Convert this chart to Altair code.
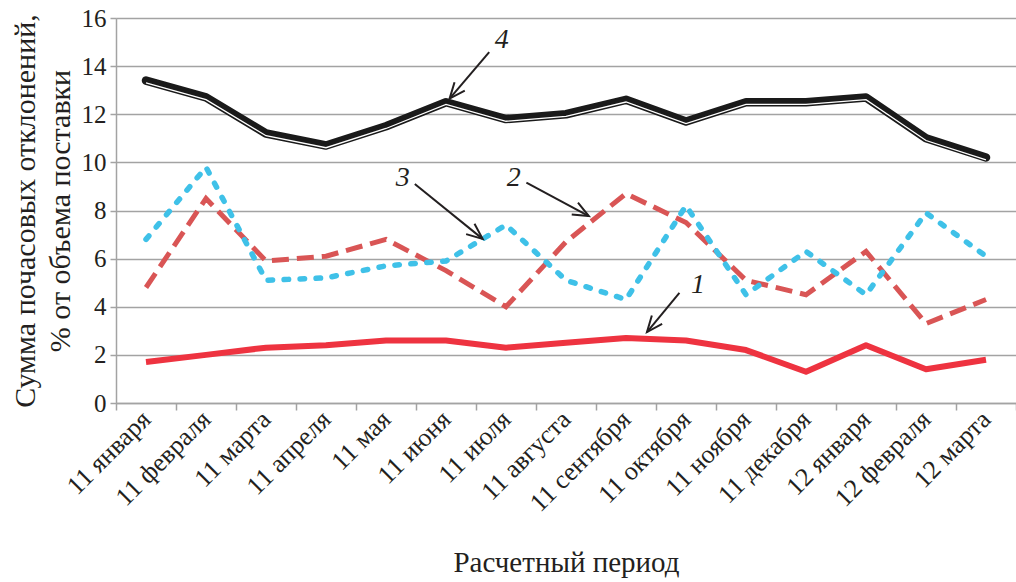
import altair as alt
import pandas as pd

months = ["11 января", "11 февраля", "11 марта", "11 апреля", "11 мая", "11 июня",
          "11 июля", "11 августа", "11 сентября", "11 октября", "11 ноября",
          "11 декабря", "12 января", "12 февраля", "12 марта"]
s1 = [1.7, 2.0, 2.3, 2.4, 2.6, 2.6, 2.3, 2.5, 2.7, 2.6, 2.2, 1.3, 2.4, 1.4, 1.8]
s2 = [4.8, 8.5, 5.9, 6.1, 6.8, 5.5, 4.0, 6.7, 8.7, 7.5, 5.1, 4.5, 6.3, 3.3, 4.3]
s3 = [6.8, 9.8, 5.1, 5.2, 5.7, 5.9, 7.4, 5.1, 4.3, 8.2, 4.5, 6.3, 4.5, 7.9, 6.1]
s4 = [13.4, 12.7, 11.2, 10.7, 11.5, 12.5, 11.8, 12.0, 12.6, 11.7, 12.5, 12.5, 12.7, 11.0, 10.2]

# annotation labels and arrows (in data units: month index, value)
ann_labels = ["1", "2", "3", "4"]
ann_label_x = [9.20, 6.13, 4.28, 5.93]
ann_label_y = [4.90, 9.35, 9.35, 15.09]
ann_tail_x = [8.89, 6.34, 4.48, 5.72]
ann_tail_y = [4.58, 9.16, 9.10, 14.58]
ann_tip_x = [8.35, 7.38, 5.61, 5.06]
ann_tip_y = [2.95, 7.77, 6.82, 12.65]
ann_angle = [219.2, 118.1, 129.0, 219.5]

FONT = "Liberation Serif"
TXT = "#231f20"
GRID = "#a3a3a3"

df = pd.DataFrame({
    "month": months * 4,
    "series": ["1"] * 15 + ["2"] * 15 + ["3"] * 15 + ["4"] * 15,
    "value": s1 + s2 + s3 + s4,
})

xenc = alt.X(
    "month:N", sort=months, bandPosition=0.5,
    scale=alt.Scale(type="band", paddingInner=0, paddingOuter=0),
    axis=alt.Axis(
        title="Расчетный период", tickBand="extent", labelAngle=315,
        labelAlign="right", labelBaseline="middle", labelFont=FONT, labelFontSize=26,
        labelColor=TXT, labelPadding=5, tickSize=7, tickColor=GRID, tickWidth=1.5,
        domainColor=GRID, domainWidth=1.5, grid=False,
        titleFont=FONT, titleFontSize=29, titleFontWeight="normal", titleColor=TXT,
        titlePadding=32,
    ),
)
yenc = alt.Y(
    "value:Q",
    scale=alt.Scale(domain=[0, 16], nice=False),
    axis=alt.Axis(
        title=["Сумма почасовых отклонений,", "% от объема поставки"],
        values=[0, 2, 4, 6, 8, 10, 12, 14, 16], format="d",
        labelFont=FONT, labelFontSize=25, labelColor=TXT, labelPadding=4,
        tickSize=6, tickColor=GRID, tickWidth=1.5,
        domainColor=GRID, domainWidth=1.5,
        grid=True, gridColor=GRID, gridWidth=1.5,
        titleFont=FONT, titleFontSize=30, titleFontWeight="normal", titleColor=TXT,
        titleLineHeight=35, titlePadding=6,
    ),
)

base = alt.Chart(df).encode(x=xenc, y=yenc)

l2 = base.transform_filter("datum.series == '2'").mark_line(
    color="#d95555", strokeWidth=5, strokeDash=[17, 8], strokeCap="butt")
l3 = base.transform_filter("datum.series == '3'").mark_line(
    color="#3fc1e8", strokeWidth=5.5, strokeDash=[4.5, 11.5], strokeCap="round")
l1 = base.transform_filter("datum.series == '1'").mark_line(
    color="#ee3340", strokeWidth=6, strokeJoin="round")
l4 = base.transform_filter("datum.series == '4'").mark_line(
    color="#1a1a1a", strokeWidth=8.5, strokeJoin="round", strokeCap="round")
l4w = base.transform_filter("datum.series == '4'").mark_line(
    color="white", strokeWidth=1.3, yOffset=2.2)

main = alt.layer(l2, l3, l1, l4, l4w)

ann = pd.DataFrame({
    "label": ann_labels, "lx": ann_label_x, "ly": ann_label_y,
    "tx": ann_tail_x, "ty": ann_tail_y, "hx": ann_tip_x, "hy": ann_tip_y,
    "angle": ann_angle,
})
qx = alt.Scale(domain=[-0.5, 14.5], nice=False, zero=False)
qy = alt.Scale(domain=[0, 16], nice=False)

shafts = alt.Chart(ann).mark_rule(color=TXT, strokeWidth=2).encode(
    x=alt.X("tx:Q", scale=qx, axis=None), x2="hx:Q",
    y=alt.Y("ty:Q", scale=qy, axis=None), y2="hy:Q",
)
heads = alt.Chart(ann).mark_point(
    shape="M -0.42 1 L 0 0 L 0.42 1", filled=False, color=TXT,
    strokeWidth=2, size=1000, opacity=1,
).encode(
    x=alt.X("hx:Q", scale=qx, axis=None),
    y=alt.Y("hy:Q", scale=qy, axis=None),
    angle=alt.Angle("angle:Q", scale=None),
)
labels = alt.Chart(ann).mark_text(
    font=FONT, fontSize=28, fontStyle="italic", color=TXT,
    align="center", baseline="middle",
).encode(
    x=alt.X("lx:Q", scale=qx, axis=None),
    y=alt.Y("ly:Q", scale=qy, axis=None),
    text="label:N",
)
annot = alt.layer(shafts, heads, labels)

chart = alt.layer(main, annot).resolve_scale(x="independent", y="independent").resolve_axis(
    x="independent", y="independent").properties(
    width=900, height=385,
    autosize=alt.AutoSizeParams(type="none"),
    padding={"left": 116, "top": 18, "right": 0, "bottom": 179},
).configure_view(stroke=None).configure(background="white")

chart.save("out.html", embed_options={"renderer": "svg", "actions": False})
